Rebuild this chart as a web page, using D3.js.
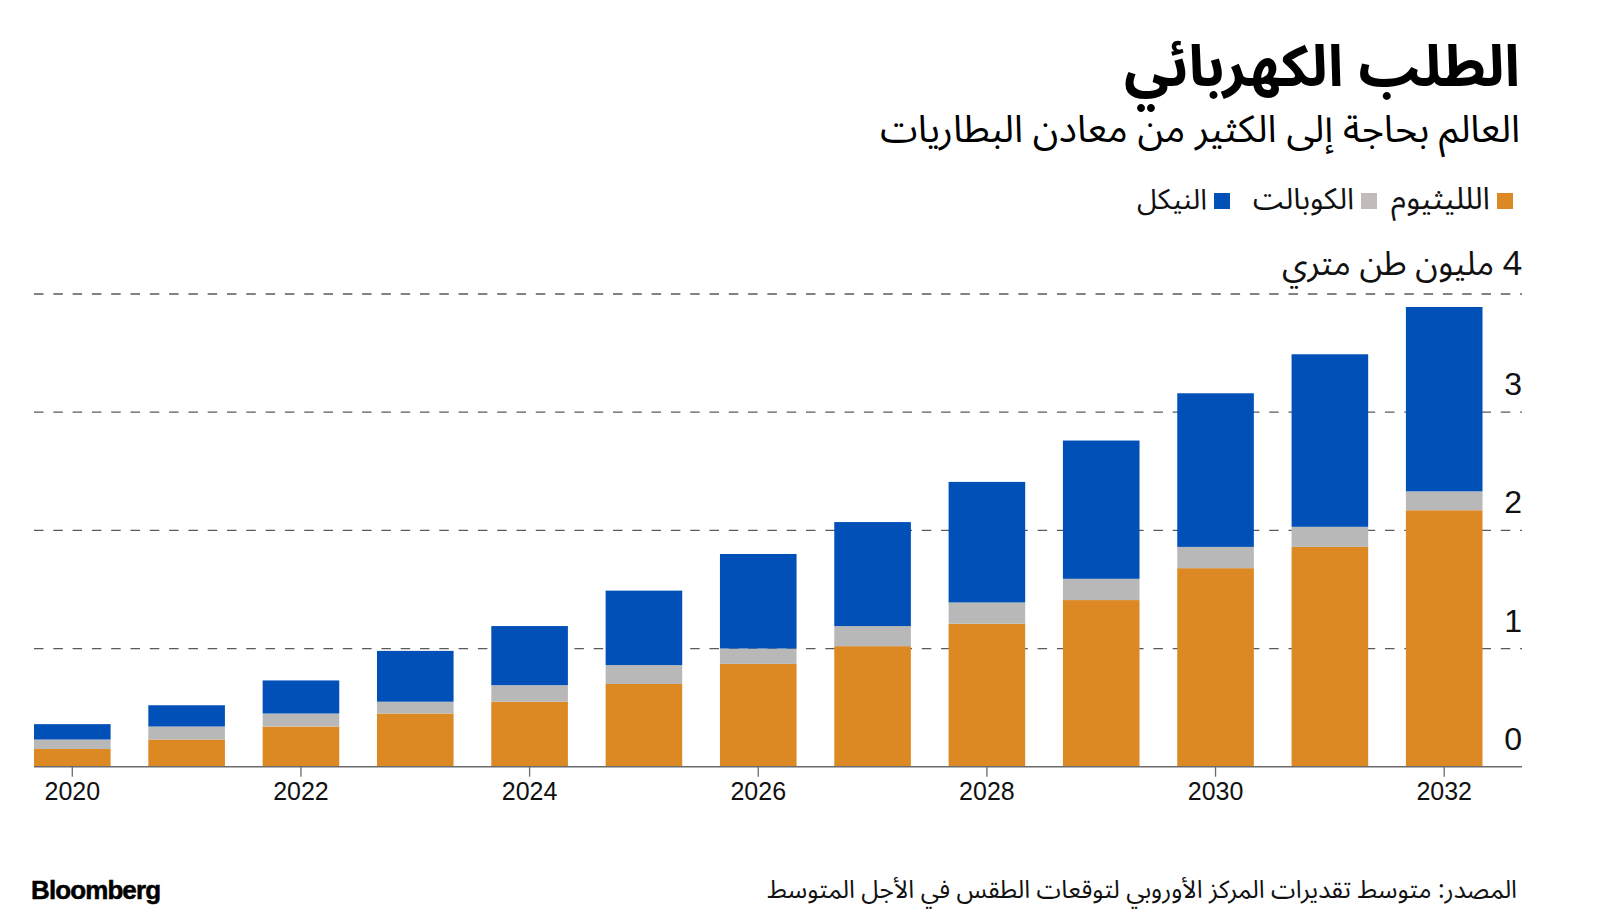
<!DOCTYPE html>
<html>
<head>
<meta charset="utf-8">
<script src="https://cdn.jsdelivr.net/npm/d3@7"></script>
<style>
  html, body { margin: 0; padding: 0; background: #fff; }
  svg { display: block; }
</style>
</head>
<body>
<svg id="chart" width="1600" height="924"></svg>
<script>
// ---- data ----
const years = [2020, 2021, 2022, 2023, 2024, 2025, 2026, 2027, 2028, 2029, 2030, 2031, 2032];
const lithium = [0.15, 0.23, 0.34, 0.45, 0.55, 0.70, 0.87, 1.02, 1.21, 1.41, 1.68, 1.86, 2.17];
const cobalt  = [0.08, 0.11, 0.11, 0.10, 0.14, 0.16, 0.13, 0.17, 0.18, 0.18, 0.18, 0.17, 0.16];
const nickel  = [0.13, 0.18, 0.28, 0.43, 0.50, 0.63, 0.80, 0.88, 1.02, 1.17, 1.30, 1.46, 1.56];
const seriesKeys = ["lithium", "cobalt", "nickel"];
const seriesNames = ["اللليثيوم", "الكوبالت", "النيكل"];
const seriesColors = ["#dc8924", "#b8b8b8", "#0050b8"];
const legendSwatchColors = ["#dc8924", "#c2bbbb", "#0050b8"];
const yTicks = [0, 1, 2, 3, 4];
const xTickYears = [2020, 2022, 2024, 2026, 2028, 2030, 2032];
const title = "الطلب الكهربائي";
const subtitle = "العالم بحاجة إلى الكثير من معادن البطاريات";
const unitLabel = "4 مليون طن متري";
const sourceText = "المصدر: متوسط تقديرات المركز الأوروبي لتوقعات الطقس في الأجل المتوسط";
const brand = "Bloomberg";

const arabicFont = "'Noto Sans Arabic', 'Noto Naskh Arabic', 'DejaVu Sans', sans-serif";
const latinFont = "'Liberation Sans', Arial, Helvetica, sans-serif";

const svg = d3.select("#chart");

// helper: fit text to width and align right edge
function placeRTL(sel, rightX, targetW) {
  const node = sel.node();
  if (targetW) {
    const fs = parseFloat(sel.attr("font-size"));
    const w = node.getComputedTextLength();
    if (w > 0) sel.attr("font-size", (fs * targetW / w).toFixed(2));
  }
  const bb = node.getBBox();
  const cur = parseFloat(sel.attr("x"));
  sel.attr("x", cur + (rightX - (bb.x + bb.width)));
}

// ---- scales ----
const data = years.map((y, i) => ({ year: y, lithium: lithium[i], cobalt: cobalt[i], nickel: nickel[i] }));
const x = d3.scaleBand().domain(years).range([34, 1482.5]).paddingInner(0.33).paddingOuter(0);
const y = d3.scaleLinear().domain([0, 4]).range([766.7, 294]);
const plotLeft = 34, plotRight = 1522;

// ---- gridlines ----
svg.append("g").selectAll("line").data(yTicks.filter(d => d > 0)).join("line")
  .attr("x1", plotLeft).attr("x2", plotRight)
  .attr("y1", d => y(d)).attr("y2", d => y(d))
  .attr("stroke", "#5a5a5a").attr("stroke-width", 1.3)
  .attr("stroke-dasharray", "9.5,9.8");

// ---- bars ----
const stack = d3.stack().keys(seriesKeys)(data);
svg.append("g").selectAll("g").data(stack).join("g")
  .attr("fill", (d, i) => seriesColors[i])
  .selectAll("rect").data(d => d).join("rect")
  .attr("x", d => x(d.data.year))
  .attr("width", x.bandwidth())
  .attr("y", d => y(d[1]))
  .attr("height", d => y(d[0]) - y(d[1]));

// ---- x axis ----
const xAxis = d3.axisBottom(x).tickValues(xTickYears).tickSize(10).tickSizeOuter(0).tickPadding(6);
const gx = svg.append("g").attr("transform", `translate(0,${y(0)})`).call(xAxis);
gx.select(".domain").remove();
gx.append("line").attr("x1", plotLeft).attr("x2", plotRight).attr("y1", 0).attr("y2", 0)
  .attr("stroke", "#6b6b6b").attr("stroke-width", 1.6);
gx.selectAll(".tick line").attr("stroke", "#6b6b6b").attr("stroke-width", 1.3);
gx.selectAll(".tick text").attr("font-family", latinFont).attr("font-size", 25)
  .attr("fill", "#111").attr("dy", "0.71em");

// ---- y axis labels (right, above gridline) ----
const yAxis = d3.axisRight(y).tickValues(yTicks.filter(d => d < 4)).tickSize(0).tickFormat(d3.format("d"));
const gy = svg.append("g").attr("transform", `translate(${plotRight},0)`).call(yAxis);
gy.select(".domain").remove();
gy.selectAll(".tick text").attr("font-family", latinFont).attr("font-size", 32)
  .attr("fill", "#111").attr("text-anchor", "end").attr("x", 0).attr("dy", -17.5);

// unit label on top gridline
const unit = svg.append("text").attr("x", 1522).attr("y", y(4) - 19)
  .attr("direction", "rtl").attr("text-anchor", "start")
  .attr("font-family", arabicFont).attr("font-size", 26).attr("fill", "#111")
  .text(unitLabel);
placeRTL(unit, 1522, 240);

// ---- title & subtitle ----
const t = svg.append("text").attr("x", 1520).attr("y", 86)
  .attr("direction", "rtl").attr("text-anchor", "start")
  .attr("font-family", arabicFont).attr("font-weight", "bold").attr("font-size", 50).attr("fill", "#000")
  .text(title);
placeRTL(t, 1520, 396);

const st = svg.append("text").attr("x", 1520).attr("y", 142)
  .attr("direction", "rtl").attr("text-anchor", "start")
  .attr("font-family", arabicFont).attr("font-size", 32).attr("fill", "#000")
  .text(subtitle);
placeRTL(st, 1520, 640);

// ---- legend ----
const legendRights = [1513, 1377, 1230];
const legendTextWidths = [99, 101, 70];
seriesNames.forEach((name, i) => {
  const r = legendRights[i];
  svg.append("rect").attr("x", r - 16).attr("y", 193).attr("width", 16).attr("height", 16)
    .attr("fill", legendSwatchColors[i]);
  const lt = svg.append("text").attr("x", r - 23).attr("y", 209)
    .attr("direction", "rtl").attr("text-anchor", "start")
    .attr("font-family", arabicFont).attr("font-size", 22).attr("fill", "#111")
    .text(name);
  placeRTL(lt, r - 23, legendTextWidths[i]);
});

// ---- footer ----
svg.append("text").attr("x", 31).attr("y", 899)
  .attr("font-family", latinFont).attr("font-weight", "bold").attr("font-size", 26)
  .attr("letter-spacing", -0.9).attr("fill", "#000")
  .attr("stroke", "#000").attr("stroke-width", 0.5)
  .text(brand);

const src = svg.append("text").attr("x", 1517).attr("y", 898)
  .attr("direction", "rtl").attr("text-anchor", "start")
  .attr("font-family", arabicFont).attr("font-size", 20).attr("fill", "#111")
  .text(sourceText);
placeRTL(src, 1517, 750);
</script>
</body>
</html>
